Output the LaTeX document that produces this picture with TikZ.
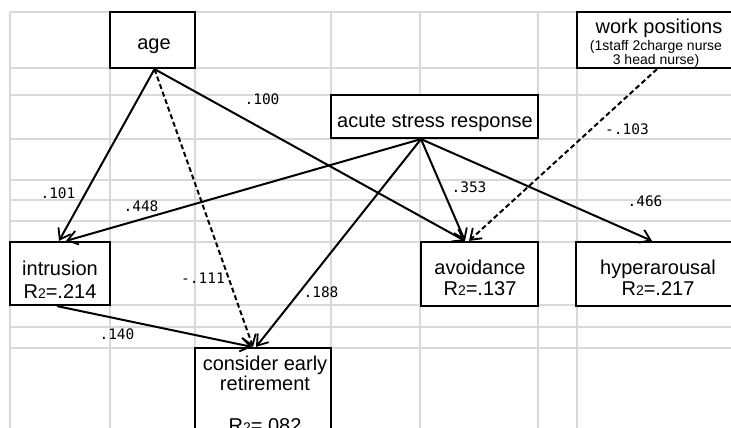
\documentclass[tikz,border=0pt]{standalone}
\usepackage{fontspec}
\setmainfont{Liberation Sans}
\newfontfamily\labmono{DejaVu Sans Mono}
\usetikzlibrary{arrows.meta}
\newcommand{\rtwo}{R{\fontsize{14}{14}\selectfont 2}}
\tikzset{
  gridline/.style={draw=black!15, line width=1.5pt},
  box/.style={draw=black, fill=white, line width=2.2pt, inner sep=0pt},
  big/.style={font=\fontsize{20}{22}\selectfont, anchor=base, inner sep=0pt},
  small/.style={font=\fontsize{14}{16}\selectfont, anchor=base, inner sep=0pt},
  lab/.style={font=\labmono\fontsize{14.5}{16}\selectfont, anchor=base, inner sep=0pt},
  path/.style={line width=2pt, -{Straight Barb[length=10pt,width=14pt,line width=1.8pt]}},
  dpath/.style={path, dash pattern=on 5pt off 3pt},
}
\begin{document}
\begin{tikzpicture}[x=1pt,y=-1pt]
\useasboundingbox (0,0) rectangle (731,428);
\clip (0,0) rectangle (731,428);
% spreadsheet grid
\foreach \gx in {10,110,195,331,420,538,577}
  \draw[gridline] (\gx,12) -- (\gx,428);
\foreach \gy in {12,68,95,139,180,200,221,242,305,327,348}
  \draw[gridline] (10,\gy) -- (731,\gy);
% boxes
\node[box, minimum width=85pt, minimum height=56pt] (age) at (152.5,40) {};
\node[box, minimum width=207pt, minimum height=43pt] (acute) at (434.5,116.5) {};
\node[box, minimum width=163pt, minimum height=56pt] (work) at (658.5,40) {};
\node[box, minimum width=100pt, minimum height=63pt] (intr) at (60,273.5) {};
\node[box, minimum width=117pt, minimum height=64pt] (avoid) at (479.5,274) {};
\node[box, minimum width=164pt, minimum height=64pt] (hyper) at (658,274) {};
\node[box, minimum width=136pt, minimum height=92pt] (cons) at (263,394) {};
% box texts
\node[big] (agetxt) at (154,50) {age};
\node[big] (acutetxt) at (435,127) {acute stress response};
\node[big] (worktxt) at (659,34) {work positions};
\node[small] (worktxtb) at (656,51) {(1staff 2charge nurse};
\node[small] (worktxtc) at (656,64) {3 head nurse)};
\node[big] (intrtxt) at (60,275) {intrusion};
\node[big] (intrr) at (60,298) {\rtwo=.214};
\node[big] (avoidtxt) at (480,274) {avoidance};
\node[big] (avoidr) at (480,295) {\rtwo=.137};
\node[big] (hypertxt) at (658,274) {hyperarousal};
\node[big] (hyperr) at (658,295) {\rtwo=.217};
\node[big] (constxt) at (265,370) {consider early};
\node[big] (constxtb) at (265,390) {retirement};
\node[big] (consr) at (265,432) {\rtwo=.082};
% paths
\draw[path] ([xshift=2pt]age.south) -- ([xshift=-1pt]intr.north);
\draw[path] ([xshift=2pt]age.south) -- ([xshift=-14.5pt]avoid.north);
\draw[dpath] ([xshift=2pt]age.south) -- ([xshift=-10pt]cons.north);
\draw[path] ([xshift=-13.5pt]acute.south) -- ([xshift=6pt]intr.north);
\draw[path] ([xshift=-13.5pt]acute.south) -- ([xshift=-14.5pt]avoid.north);
\draw[path] ([xshift=-13.5pt]acute.south) -- ([xshift=-6pt]hyper.north);
\draw[path] ([xshift=-13.5pt]acute.south) -- ([xshift=-7pt]cons.north);
\draw[dpath] ([xshift=-1.5pt]work.south) -- ([xshift=-10.5pt]avoid.north);
\draw[path] ([xshift=-3pt]intr.south) -- ([xshift=-11pt]cons.north);
% coefficient labels
\node[lab] (l101) at (58,198) {.101};
\node[lab] (l448) at (141,211) {.448};
\node[lab] (l100) at (262,104) {.100};
\node[lab] (l103) at (627,134) {-.103};
\node[lab] (l353) at (469,192) {.353};
\node[lab] (l466) at (645,206) {.466};
\node[lab] (l111) at (203,283) {-.111};
\node[lab] (l188) at (321,297) {.188};
\node[lab] (l140) at (117,339) {.140};
\end{tikzpicture}
\end{document}
